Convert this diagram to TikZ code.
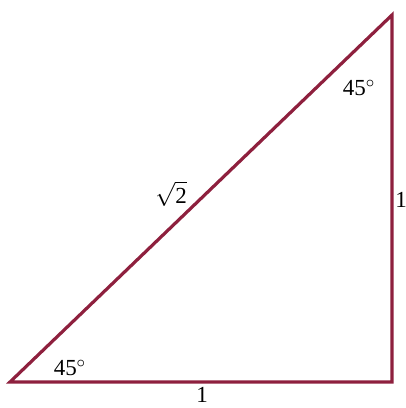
\documentclass[tikz,border=0pt]{standalone}
\usepackage{fontspec}
\setmainfont{Liberation Serif}
\usepackage{xcolor}
\definecolor{edgered}{RGB}{142,32,62}
\tikzset{
    lbl/.style={inner sep=0pt, font=\fontsize{11.5}{13}\selectfont}
}

\begin{document}
\begin{tikzpicture}[x=0.5pt, y=0.5pt]
    \useasboundingbox (0,0) rectangle (406,408);

    % Corners of the triangle
    \coordinate (A) at (10,26);
    \coordinate (B) at (392,26);
    \coordinate (C) at (392,393);

    % Sides
    \draw[edgered, line width=1.6pt, line join=miter] (A) -- (B) -- (C) -- cycle;

    % Labels
    \node[lbl] (angA) at (70,40) {45$^\circ$};
    \node[lbl] (angC) at (359,320) {45$^\circ$};
    \node[lbl] (hyp) at (171,214) {$\sqrt{\mbox{2}}$};
    \node[lbl] (base) at (202,13) {1};
    \node[lbl] (side) at (401,208) {1};
\end{tikzpicture}
\end{document}
